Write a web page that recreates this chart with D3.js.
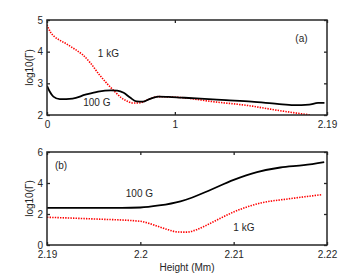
<!DOCTYPE html>
<html>
<head>
<meta charset="utf-8">
<script src="https://cdn.jsdelivr.net/npm/d3@7"></script>
<style>
    body { margin: 0; background: #fff; }
    text { font-family: "Liberation Sans", Arial, sans-serif; fill: #262626; }
    .axis path, .axis line { stroke: #262626; }
</style>
</head>
<body>
<script>
(function () {

    //panel (a): height in Mm, log10 values
    var xA100 = [0, 0.02, 0.05, 0.1, 0.2, 0.3, 0.4, 0.5, 0.55, 0.6, 0.65, 0.7, 0.75, 0.8, 0.87, 0.95, 1.05, 1.2, 1.4, 1.6, 1.8, 1.93, 2.05, 2.12, 2.17];
    var yA100 = [2.92, 2.75, 2.58, 2.5, 2.52, 2.64, 2.74, 2.78, 2.77, 2.7, 2.55, 2.43, 2.42, 2.5, 2.58, 2.57, 2.55, 2.52, 2.47, 2.42, 2.35, 2.31, 2.33, 2.38, 2.38];
    var xA1k = [0, 0.01, 0.03, 0.06, 0.1, 0.15, 0.22, 0.28, 0.34, 0.41, 0.47, 0.53, 0.58, 0.62, 0.67, 0.72, 0.8, 0.87, 0.95, 1.05, 1.3, 1.57, 1.8, 2.06];
    var yA1k = [4.85, 4.75, 4.6, 4.47, 4.36, 4.25, 4.07, 3.9, 3.64, 3.27, 2.99, 2.74, 2.55, 2.45, 2.38, 2.38, 2.5, 2.58, 2.57, 2.55, 2.42, 2.3, 2.15, 2.0];

    //panel (b)
    var xB100 = [2.19, 2.195, 2.198, 2.2, 2.202, 2.2043, 2.2055, 2.2075, 2.21, 2.2125, 2.215, 2.2175, 2.2197];
    var yB100 = [2.39, 2.4, 2.4, 2.42, 2.55, 2.82, 3.05, 3.55, 4.2, 4.7, 5.0, 5.15, 5.35];
    var xB1k = [2.19, 2.195, 2.2, 2.201, 2.202, 2.203, 2.204, 2.205, 2.206, 2.207, 2.208, 2.21, 2.2129, 2.2158, 2.2195];
    var yB1k = [1.79, 1.68, 1.53, 1.38, 1.18, 0.98, 0.84, 0.83, 0.98, 1.25, 1.55, 2.13, 2.71, 2.97, 3.25];

    var xTicksA = [0, 1, 2.19], yTicksA = [2, 3, 4, 5];
    var xTicksB = [2.19, 2.2, 2.21, 2.22], yTicksB = [0, 2, 4, 6];

    var width = 362, height = 276;

    var svg = d3.select("body")
        .append("svg")
        .attr("width", width)
        .attr("height", height);

    function zip(xs, ys) {
        return xs.map(function (x, i) { return [x, ys[i]]; });
    }

    function drawPanel(opt) {
        var x = d3.scaleLinear().domain(opt.xDomain).range([47, 327]);
        var y = d3.scaleLinear().domain(opt.yDomain).range([opt.bottom, opt.top]);

        var clipId = "clip" + opt.name;
        svg.append("clipPath").attr("id", clipId)
            .append("rect")
            .attr("x", 47).attr("y", opt.top)
            .attr("width", 280).attr("height", opt.bottom - opt.top);

        var line = d3.line()
            .x(function (d) { return x(d[0]); })
            .y(function (d) { return y(d[1]); })
            .curve(d3.curveMonotoneX);

        var g = svg.append("g").attr("clip-path", "url(#" + clipId + ")");

        g.append("path")
            .datum(zip(opt.x1k, opt.y1k))
            .attr("d", line)
            .attr("fill", "none")
            .attr("stroke", "#ff0000")
            .attr("stroke-width", 1.6)
            .attr("stroke-dasharray", "1.4,1.2");

        g.append("path")
            .datum(zip(opt.x100, opt.y100))
            .attr("d", line)
            .attr("fill", "none")
            .attr("stroke", "#000")
            .attr("stroke-width", 1.8);

        //axes with inward ticks
        var fmt = function (d) { return String(d); };
        svg.append("g").attr("class", "axis")
            .attr("transform", "translate(0," + opt.bottom + ")")
            .call(d3.axisBottom(x).tickValues(opt.xTicks).tickSizeInner(-3).tickSizeOuter(0).tickPadding(6).tickFormat(fmt))
            .call(function (s) { s.select(".domain").remove(); })
            .selectAll("text").style("font-size", "10px");
        svg.append("g").attr("class", "axis")
            .attr("transform", "translate(47,0)")
            .call(d3.axisLeft(y).tickValues(opt.yTicks).tickSizeInner(-3).tickSizeOuter(0).tickPadding(4).tickFormat(fmt))
            .call(function (s) { s.select(".domain").remove(); })
            .selectAll("text").style("font-size", "10px");
        svg.append("g").attr("class", "axis")
            .attr("transform", "translate(0," + opt.top + ")")
            .call(d3.axisTop(x).tickValues(opt.xTicks).tickSizeInner(-3).tickSizeOuter(0).tickFormat(""))
            .call(function (s) { s.select(".domain").remove(); });
        svg.append("g").attr("class", "axis")
            .attr("transform", "translate(327,0)")
            .call(d3.axisRight(y).tickValues(opt.yTicks).tickSizeInner(-3).tickSizeOuter(0).tickFormat(""))
            .call(function (s) { s.select(".domain").remove(); });

        svg.selectAll(".axis line").attr("stroke-width", 1.3);

        //frame
        svg.append("rect")
            .attr("x", 47).attr("y", opt.top)
            .attr("width", 280).attr("height", opt.bottom - opt.top)
            .attr("fill", "none")
            .attr("stroke", "#262626")
            .attr("stroke-width", 1.5);

        //y label
        svg.append("text")
            .attr("transform", "translate(33," + ((opt.top + opt.bottom) / 2) + ") rotate(-90)")
            .attr("text-anchor", "middle")
            .style("font-size", "10px")
            .text("log10(\u0393)");

        opt.labels.forEach(function (l) {
            svg.append("text")
                .attr("x", x(l[1])).attr("y", y(l[2]))
                .attr("text-anchor", "middle")
                .attr("dy", "0.35em")
                .style("font-size", "10px")
                .text(l[0]);
        });
    }

    drawPanel({
        name: "a", xDomain: [0, 2.19], yDomain: [2, 5], top: 20, bottom: 115,
        x100: xA100, y100: yA100, x1k: xA1k, y1k: yA1k,
        xTicks: xTicksA, yTicks: yTicksA,
        labels: [["1 kG", 0.48, 4.8 - 0.85], ["100 G", 0.39, 2.38], ["(a)", 1.99, 4.42]]
    });

    drawPanel({
        name: "b", xDomain: [2.19, 2.22], yDomain: [0, 6], top: 152, bottom: 245,
        x100: xB100, y100: yB100, x1k: xB1k, y1k: yB1k,
        xTicks: xTicksB, yTicks: yTicksB,
        labels: [["(b)", 2.1915, 5.15], ["100 G", 2.1999, 3.3], ["1 kG", 2.2111, 1.15]]
    });

    svg.append("text")
        .attr("x", 187).attr("y", 271)
        .attr("text-anchor", "middle")
        .style("font-size", "10px")
        .text("Height (Mm)");
})();
</script>
</body>
</html>
